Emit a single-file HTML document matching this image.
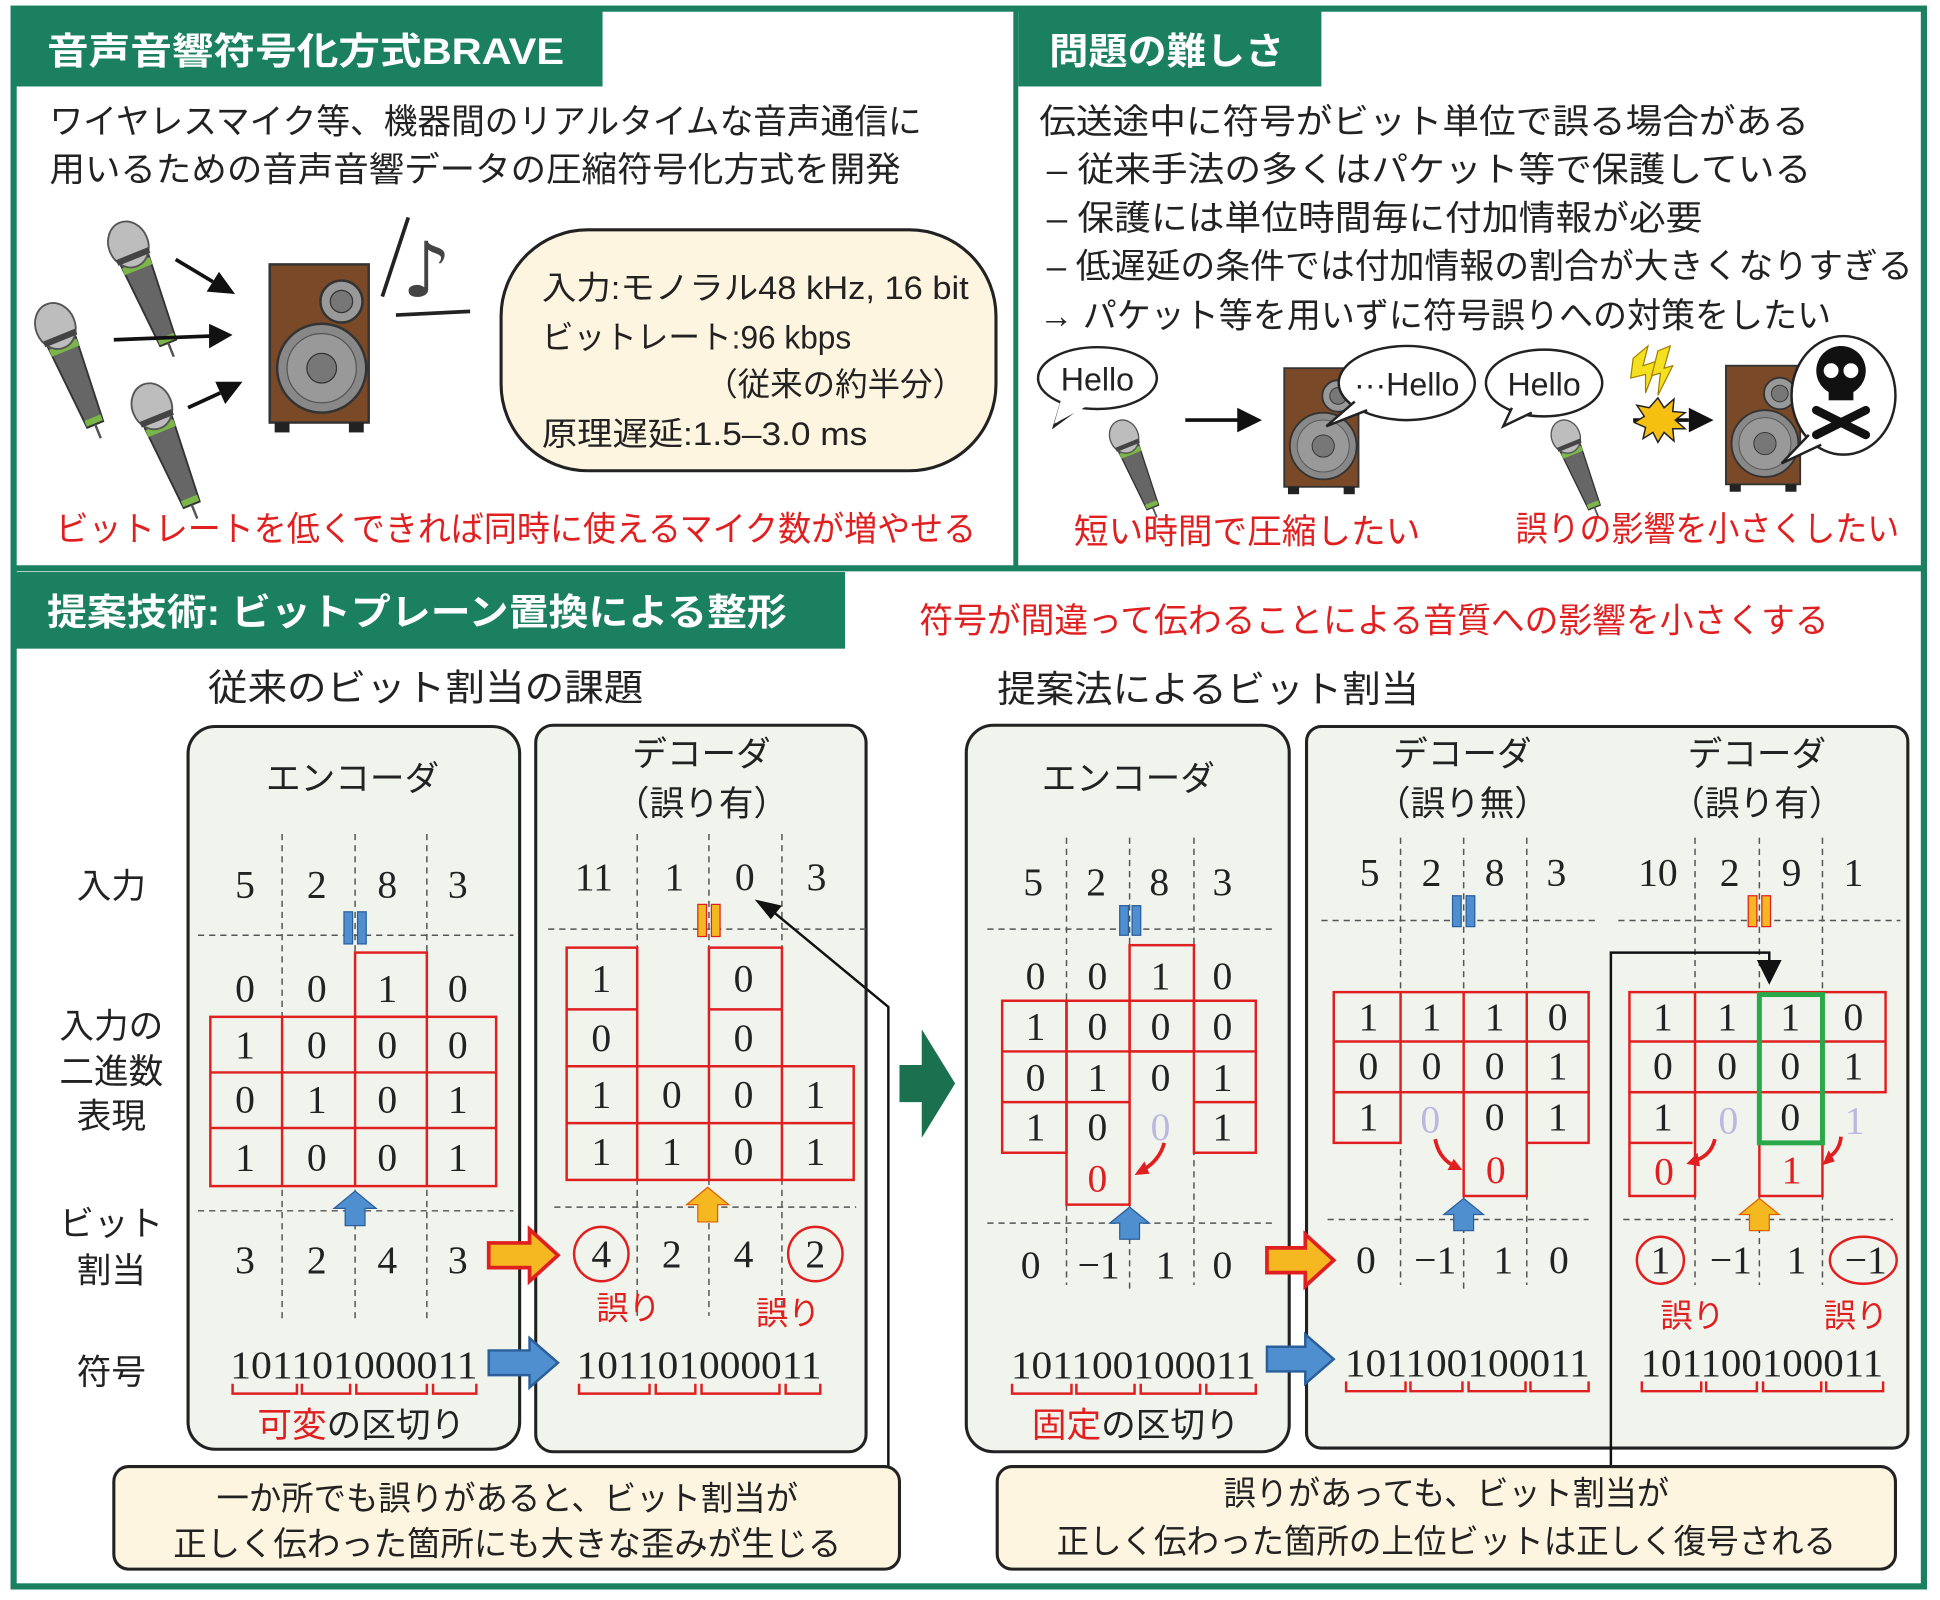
<!DOCTYPE html>
<html><head><meta charset="utf-8"><style>
html,body{margin:0;padding:0;background:#fff;}
svg{display:block;}
.j{font-family:"Liberation Sans","Noto Sans CJK JP",sans-serif;}
.n{font-family:"Liberation Serif","DejaVu Serif",serif;font-size:32px;fill:#222;text-anchor:middle;dominant-baseline:central;}
.f{fill:#b8b8e0;}
.r{fill:#e02020;}
.cell{fill:none;stroke:#e02020;stroke-width:2;}
.dash{stroke:#555;stroke-width:1.2;stroke-dasharray:5,4;fill:none;}
.br{fill:none;stroke:#e02020;stroke-width:2;}
</style></head><body>
<svg width="1940" height="1600" viewBox="0 0 1568 1295" preserveAspectRatio="none" xmlns="http://www.w3.org/2000/svg">
<defs>
<g id="mic">
 <polygon points="-12,16 12,16 7,88 -7,88" fill="#666" stroke="#333" stroke-width="1.5"/>
 <rect x="-12" y="18" width="24" height="6" fill="#7ab648"/>
 <rect x="-7" y="82" width="14" height="5" fill="#7ab648"/>
 <line x1="0" y1="88" x2="0" y2="100" stroke="#555" stroke-width="2"/>
 <ellipse cx="0" cy="2" rx="16" ry="19" fill="#bdbdbd" stroke="#555" stroke-width="1.5"/>
 <rect x="-14" y="10" width="28" height="5" fill="#444"/>
</g>
<g id="spk">
 <rect x="0" y="0" width="80" height="128" fill="#7a4a28" stroke="#333" stroke-width="2"/>
 <circle cx="58" cy="30" r="17" fill="#999" stroke="#333" stroke-width="2"/>
 <circle cx="58" cy="30" r="9" fill="#777" stroke="#333"/>
 <circle cx="42" cy="84" r="36" fill="#888" stroke="#333" stroke-width="2"/>
 <circle cx="42" cy="84" r="28" fill="#999" stroke="#555"/>
 <circle cx="42" cy="84" r="12" fill="#777" stroke="#333"/>
 <rect x="4" y="128" width="12" height="8" fill="#222"/>
 <rect x="64" y="128" width="12" height="8" fill="#222"/>
</g>
</defs>

<!-- outer frame -->
<rect x="11" y="7" width="1544" height="1277" fill="none" stroke="#1b8060" stroke-width="5"/>
<line x1="11" y1="460" x2="1555" y2="460" stroke="#1b8060" stroke-width="5"/>
<line x1="821" y1="7" x2="821" y2="460" stroke="#1b8060" stroke-width="4"/>

<!-- top-left -->
<rect x="12" y="8" width="475" height="62" fill="#1b8060"/>
<text x="38" y="52" class="j" font-size="30" font-weight="bold" fill="#fff" textLength="418" lengthAdjust="spacingAndGlyphs">音声音響符号化方式BRAVE</text>
<text x="40" y="108" class="j" font-size="28" fill="#222" textLength="705" lengthAdjust="spacingAndGlyphs">ワイヤレスマイク等、機器間のリアルタイムな音声通信に</text>
<text x="40" y="147" class="j" font-size="28" fill="#222" textLength="688" lengthAdjust="spacingAndGlyphs">用いるための音声音響データの圧縮符号化方式を開発</text>

<use href="#mic" transform="translate(103,196) rotate(-22)"/>
<use href="#mic" transform="translate(44,262) rotate(-22)"/>
<use href="#mic" transform="translate(122,327) rotate(-22)"/>
<line x1="142" y1="210" x2="172" y2="228" stroke="#111" stroke-width="3"/><polygon points="190,238 167,236 177,220" fill="#111"/>
<line x1="92" y1="275" x2="170" y2="272" stroke="#111" stroke-width="3"/><polygon points="188,271 169,262 169,282" fill="#111"/>
<line x1="152" y1="330" x2="178" y2="318" stroke="#111" stroke-width="3"/><polygon points="196,309 174,309 182,327" fill="#111"/>
<use href="#spk" transform="translate(218,214)"/>
<line x1="330" y1="176" x2="309" y2="240" stroke="#222" stroke-width="3"/>
<line x1="320" y1="255" x2="380" y2="252" stroke="#222" stroke-width="3"/>
<text x="325" y="240" font-size="62" fill="#444" font-family="DejaVu Sans,sans-serif">♪</text>

<rect x="405" y="186" width="400" height="195" rx="70" ry="70" fill="#fdf5e0" stroke="#222" stroke-width="2.5"/>
<text x="438" y="242" class="j" font-size="26" fill="#222" textLength="345" lengthAdjust="spacingAndGlyphs">入力:モノラル48 kHz, 16 bit</text>
<text x="438" y="282" class="j" font-size="26" fill="#222" textLength="250" lengthAdjust="spacingAndGlyphs">ビットレート:96 kbps</text>
<text x="570" y="320" class="j" font-size="26" fill="#222" textLength="210" lengthAdjust="spacingAndGlyphs">（従来の約半分）</text>
<text x="438" y="360" class="j" font-size="26" fill="#222" textLength="263" lengthAdjust="spacingAndGlyphs">原理遅延:1.5–3.0 ms</text>
<text x="45" y="438" class="j" font-size="28" fill="#e02020" textLength="744" lengthAdjust="spacingAndGlyphs">ビットレートを低くできれば同時に使えるマイク数が増やせる</text>

<!-- top-right -->
<rect x="823" y="8" width="245" height="62" fill="#1b8060"/>
<text x="848" y="52" class="j" font-size="30" font-weight="bold" fill="#fff" textLength="190" lengthAdjust="spacingAndGlyphs">問題の難しさ</text>
<text x="840" y="108" class="j" font-size="28" fill="#222" textLength="622" lengthAdjust="spacingAndGlyphs">伝送途中に符号がビット単位で誤る場合がある</text>
<text x="846" y="147" class="j" font-size="28" fill="#222" textLength="618" lengthAdjust="spacingAndGlyphs">– 従来手法の多くはパケット等で保護している</text>
<text x="846" y="186" class="j" font-size="28" fill="#222" textLength="530" lengthAdjust="spacingAndGlyphs">– 保護には単位時間毎に付加情報が必要</text>
<text x="846" y="225" class="j" font-size="28" fill="#222" textLength="700" lengthAdjust="spacingAndGlyphs">– 低遅延の条件では付加情報の割合が大きくなりすぎる</text>
<text x="840" y="265" class="j" font-size="28" fill="#222" textLength="640" lengthAdjust="spacingAndGlyphs">→ パケット等を用いずに符号誤りへの対策をしたい</text>

<path d="M858,325 L852,345 L875,328" fill="#fff" stroke="#222" stroke-width="2"/>
<ellipse cx="887" cy="306" rx="48" ry="25" fill="#fff" stroke="#222" stroke-width="2"/>
<path d="M858,322 L852,343 L878,329" fill="#fff" stroke="none"/>
<text x="887" y="316" font-family="Liberation Sans,sans-serif" font-size="26" text-anchor="middle" fill="#222">Hello</text>
<use href="#mic" transform="translate(908,352) rotate(-22) scale(0.72)"/>
<line x1="958" y1="340" x2="1002" y2="340" stroke="#111" stroke-width="3"/><polygon points="1020,340 1000,330 1000,350" fill="#111"/>
<use href="#spk" transform="translate(1038,298) scale(0.75)"/>
<ellipse cx="1137" cy="310" rx="55" ry="30" fill="#fff" stroke="#222" stroke-width="2"/>
<path d="M1095,325 L1072,345 L1105,332" fill="#fff" stroke="#222" stroke-width="2"/>
<text x="1137" y="320" font-family="Liberation Sans,sans-serif" font-size="26" text-anchor="middle" fill="#222">···Hello</text>
<ellipse cx="1248" cy="310" rx="47" ry="27" fill="#fff" stroke="#222" stroke-width="2"/>
<path d="M1222,330 L1215,345 L1238,334" fill="#fff" stroke="#222" stroke-width="2"/>
<text x="1248" y="320" font-family="Liberation Sans,sans-serif" font-size="26" text-anchor="middle" fill="#222">Hello</text>
<use href="#mic" transform="translate(1265,352) rotate(-22) scale(0.72)"/>
<polygon points="1320,290 1332,280 1328,296 1340,292 1330,318 1330,303 1318,306" fill="#f5e020" stroke="#a08000"/>
<polygon points="1340,284 1350,280 1345,298 1352,296 1340,320 1342,302 1335,304" fill="#f5e020" stroke="#a08000"/>
<line x1="1320" y1="340" x2="1365" y2="340" stroke="#111" stroke-width="3"/><polygon points="1385,340 1365,330 1365,350" fill="#111"/>
<polygon points="1340,322 1345,330 1353,323 1352,333 1362,334 1354,340 1362,347 1352,347 1353,357 1345,350 1340,358 1336,350 1328,355 1330,346 1321,342 1329,337 1323,328 1333,330" fill="#f5c010" stroke="#222" stroke-width="1.2"/>
<use href="#spk" transform="translate(1395,296) scale(0.75)"/>
<ellipse cx="1490" cy="320" rx="42" ry="48" fill="#fff" stroke="#222" stroke-width="2"/>
<path d="M1462,352 L1440,375 L1472,360" fill="#fff" stroke="#222" stroke-width="2"/>
<circle cx="1488" cy="300" r="20" fill="#111"/><rect x="1478" y="310" width="20" height="14" fill="#111"/>
<circle cx="1480" cy="300" r="6" fill="#fff"/><circle cx="1496" cy="300" r="6" fill="#fff"/>
<line x1="1468" y1="332" x2="1508" y2="352" stroke="#111" stroke-width="7" stroke-linecap="round"/>
<line x1="1508" y1="332" x2="1468" y2="352" stroke="#111" stroke-width="7" stroke-linecap="round"/>
<text x="868" y="440" class="j" font-size="28" fill="#e02020" textLength="280" lengthAdjust="spacingAndGlyphs">短い時間で圧縮したい</text>
<text x="1225" y="438" class="j" font-size="28" fill="#e02020" textLength="310" lengthAdjust="spacingAndGlyphs">誤りの影響を小さくしたい</text>

<!-- bottom headers -->
<rect x="12" y="463" width="671" height="62" fill="#1b8060"/>
<text x="38" y="506" class="j" font-size="30" font-weight="bold" fill="#fff" textLength="598" lengthAdjust="spacingAndGlyphs">提案技術: ビットプレーン置換による整形</text>
<text x="743" y="512" class="j" font-size="28" fill="#e02020" textLength="735" lengthAdjust="spacingAndGlyphs">符号が間違って伝わることによる音質への影響を小さくする</text>
<text x="168" y="567" class="j" font-size="30" fill="#222" textLength="352" lengthAdjust="spacingAndGlyphs">従来のビット割当の課題</text>
<text x="806" y="568" class="j" font-size="30" fill="#222" textLength="341" lengthAdjust="spacingAndGlyphs">提案法によるビット割当</text>

<!-- panels -->
<rect x="152" y="588" width="268" height="585" rx="22" fill="#f1f3ed" stroke="#222" stroke-width="2.5"/>
<rect x="433" y="587" width="267" height="588" rx="14" fill="#f1f3ed" stroke="#222" stroke-width="2.5"/>
<rect x="781" y="587" width="261" height="588" rx="22" fill="#f1f3ed" stroke="#222" stroke-width="2.5"/>
<rect x="1056" y="588" width="486" height="584" rx="12" fill="#f1f3ed" stroke="#222" stroke-width="2.5"/>

<!-- row labels -->
<g class="j" font-size="28" fill="#222" text-anchor="middle">
<text x="90" y="727">入力</text>
<text x="90" y="840">入力の</text><text x="90" y="877">二進数</text><text x="90" y="913">表現</text>
<text x="90" y="1000">ビット</text><text x="90" y="1038">割当</text>
<text x="90" y="1120">符号</text>
<text x="285" y="640">エンコーダ</text>
<text x="567" y="620">デコーダ</text><text x="567" y="660">（誤り有）</text>
<text x="912" y="640">エンコーダ</text>
<text x="1182" y="620">デコーダ</text><text x="1182" y="660">（誤り無）</text>
<text x="1420" y="620">デコーダ</text><text x="1420" y="660">（誤り有）</text>
</g>

<!-- ENC1 -->
<g class="dash">
<line x1="228" y1="675" x2="228" y2="1068"/><line x1="287" y1="675" x2="287" y2="1068"/><line x1="345" y1="675" x2="345" y2="1068"/>
<line x1="160" y1="757" x2="415" y2="757"/><line x1="160" y1="980" x2="415" y2="980"/>
</g>
<rect x="287" y="771" width="58" height="52" class="cell"/>
<rect x="170" y="823" width="231" height="137" class="cell"/>
<path d="M228,823V960M287,823V960M345,823V960M170,868H401M170,913H401" class="cell"/>
<g class="n">
<text x="198" y="716">5</text><text x="256" y="716">2</text><text x="313" y="716">8</text><text x="370" y="716">3</text>
<text x="198" y="800">0</text><text x="256" y="800">0</text><text x="313" y="800">1</text><text x="370" y="800">0</text>
<text x="198" y="846">1</text><text x="256" y="846">0</text><text x="313" y="846">0</text><text x="370" y="846">0</text>
<text x="198" y="890">0</text><text x="256" y="890">1</text><text x="313" y="890">0</text><text x="370" y="890">1</text>
<text x="198" y="937">1</text><text x="256" y="937">0</text><text x="313" y="937">0</text><text x="370" y="937">1</text>
<text x="198" y="1020">3</text><text x="256" y="1020">2</text><text x="313" y="1020">4</text><text x="370" y="1020">3</text>
<text x="286" y="1105" textLength="200" lengthAdjust="spacingAndGlyphs">101101000011</text>
</g>
<rect x="278" y="738" width="7" height="26" fill="#4f8fd0" stroke="#2a5f9a"/><rect x="289" y="738" width="7" height="26" fill="#4f8fd0" stroke="#2a5f9a"/>
<polygon points="270,978 287,964 304,978 295,978 295,992 279,992 279,978" fill="#4f8fd0" stroke="#2a5f9a"/>
<path d="M188,1120v8h52v-8M244,1120v8h39v-8M288,1120v8h57v-8M350,1120v8h35v-8" class="br"/>
<text x="208" y="1163" class="j" font-size="28" fill="#222"><tspan fill="#e02020">可変</tspan>の区切り</text>

<!-- DEC1 -->
<g class="dash">
<line x1="515" y1="675" x2="515" y2="1065"/><line x1="573" y1="675" x2="573" y2="1065"/><line x1="632" y1="675" x2="632" y2="1065"/>
<line x1="443" y1="752" x2="700" y2="752"/><line x1="448" y1="977" x2="692" y2="977"/>
</g>
<rect x="458" y="767" width="57" height="96" class="cell"/>
<rect x="573" y="767" width="59" height="96" class="cell"/>
<rect x="458" y="863" width="232" height="92" class="cell"/>
<path d="M458,817H515M573,817H632M515,863V955M573,863V955M632,863V955M458,909H690" class="cell"/>
<g class="n">
<text x="480" y="710">11</text><text x="545" y="710">1</text><text x="602" y="710">0</text><text x="660" y="710">3</text>
<text x="486" y="792">1</text><text x="601" y="792">0</text>
<text x="486" y="840">0</text><text x="601" y="840">0</text>
<text x="486" y="886">1</text><text x="543" y="886">0</text><text x="601" y="886">0</text><text x="659" y="886">1</text>
<text x="486" y="932">1</text><text x="543" y="932">1</text><text x="601" y="932">0</text><text x="659" y="932">1</text>
<text x="486" y="1015">4</text><text x="543" y="1015">2</text><text x="601" y="1015">4</text><text x="659" y="1015">2</text>
<text x="565" y="1105" textLength="198" lengthAdjust="spacingAndGlyphs">101101000011</text>
</g>
<circle cx="486" cy="1015" r="22" fill="none" stroke="#e02020" stroke-width="2"/>
<circle cx="659" cy="1015" r="22" fill="none" stroke="#e02020" stroke-width="2"/>
<rect x="564" y="732" width="7" height="26" fill="#f5b820" stroke="#e02020"/><rect x="575" y="732" width="7" height="26" fill="#f5b820" stroke="#e02020"/>
<polygon points="555,975 572,961 589,975 580,975 580,989 564,989 564,975" fill="#f5b820" stroke="#e06000"/>
<text x="482" y="1068" class="j r" font-size="26">誤り</text>
<text x="611" y="1072" class="j r" font-size="26">誤り</text>
<path d="M468,1120v8h57v-8M530,1120v8h32v-8M567,1120v8h63v-8M635,1120v8h28v-8" class="br"/>
<path d="M718,1188V815L625,738" fill="none" stroke="#111" stroke-width="2"/>
<polygon points="610,728 632,733 623,744" fill="#111"/>

<!-- arrows between -->
<polygon points="395,1006 428,1006 428,995 451,1016 428,1037 428,1026 395,1026" fill="#f5b820" stroke="#e02020" stroke-width="3"/>
<polygon points="395,1093 428,1093 428,1083 451,1103 428,1123 428,1113 395,1113" fill="#4f8fd0" stroke="#2a5f9a" stroke-width="2"/>
<polygon points="1024,1010 1055,1010 1055,999 1078,1020 1055,1041 1055,1030 1024,1030" fill="#f5b820" stroke="#e02020" stroke-width="3"/>
<polygon points="1024,1090 1055,1090 1055,1080 1078,1100 1055,1120 1055,1110 1024,1110" fill="#4f8fd0" stroke="#2a5f9a" stroke-width="2"/>
<polygon points="727,862 745,862 745,833 772,877 745,921 745,892 727,892" fill="#1b7050"/>

<!-- ENC2 -->
<g class="dash">
<line x1="862" y1="678" x2="862" y2="1040"/><line x1="913" y1="678" x2="913" y2="1045"/><line x1="965" y1="678" x2="965" y2="1040"/>
<line x1="798" y1="752" x2="1028" y2="752"/><line x1="798" y1="990" x2="1028" y2="990"/>
</g>
<rect x="913" y="765" width="52" height="86" class="cell"/>
<rect x="810" y="810" width="52" height="123" class="cell"/>
<rect x="862" y="810" width="51" height="165" class="cell"/>
<rect x="965" y="810" width="50" height="123" class="cell"/>
<path d="M810,851H1015M810,892H913M965,892H1015M810,810H1015" class="cell"/>
<g class="n" font-size="30">
<text x="835" y="714">5</text><text x="886" y="714">2</text><text x="937" y="714">8</text><text x="988" y="714">3</text>
<text x="837" y="790">0</text><text x="887" y="790">0</text><text x="938" y="790">1</text><text x="988" y="790">0</text>
<text x="837" y="831">1</text><text x="887" y="831">0</text><text x="938" y="831">0</text><text x="988" y="831">0</text>
<text x="837" y="872">0</text><text x="887" y="872">1</text><text x="938" y="872">0</text><text x="988" y="872">1</text>
<text x="837" y="912">1</text><text x="887" y="912">0</text><text x="938" y="912" class="f">0</text><text x="988" y="912">1</text>
<text x="887" y="954" class="r">0</text>
<text x="833" y="1024">0</text><text x="888" y="1024">−1</text><text x="942" y="1024">1</text><text x="988" y="1024">0</text>
<text x="916" y="1105" textLength="198" lengthAdjust="spacingAndGlyphs">101100100011</text>
</g>
<path d="M941,925 Q937,940 922,948" fill="none" stroke="#e02020" stroke-width="3"/><polygon points="917,951 925,940 929,950" fill="#e02020"/>
<rect x="905" y="733" width="7" height="24" fill="#4f8fd0" stroke="#2a5f9a"/><rect x="915" y="733" width="7" height="24" fill="#4f8fd0" stroke="#2a5f9a"/>
<polygon points="897,990 913,977 929,990 921,990 921,1003 905,1003 905,990" fill="#4f8fd0" stroke="#2a5f9a"/>
<path d="M818,1120v8h48v-8M870,1120v8h47v-8M922,1120v8h48v-8M975,1120v8h40v-8" class="br"/>
<text x="834" y="1163" class="j" font-size="28" fill="#222"><tspan fill="#e02020">固定</tspan>の区切り</text>

<!-- DEC2 left -->
<g class="dash">
<line x1="1132" y1="678" x2="1132" y2="1040"/><line x1="1183" y1="678" x2="1183" y2="1045"/><line x1="1234" y1="678" x2="1234" y2="1040"/>
<line x1="1068" y1="745" x2="1290" y2="745"/><line x1="1073" y1="987" x2="1284" y2="987"/>
</g>
<rect x="1078" y="803" width="206" height="81" class="cell"/>
<path d="M1132,803V884M1183,803V884M1234,803V884M1078,843H1284" class="cell"/>
<rect x="1078" y="884" width="54" height="41" class="cell"/>
<rect x="1183" y="884" width="51" height="84" class="cell"/>
<rect x="1234" y="884" width="50" height="41" class="cell"/>
<g class="n" font-size="30">
<text x="1107" y="706">5</text><text x="1157" y="706">2</text><text x="1208" y="706">8</text><text x="1258" y="706">3</text>
<text x="1106" y="823">1</text><text x="1157" y="823">1</text><text x="1208" y="823">1</text><text x="1259" y="823">0</text>
<text x="1106" y="863">0</text><text x="1157" y="863">0</text><text x="1208" y="863">0</text><text x="1259" y="863">1</text>
<text x="1106" y="904">1</text><text x="1156" y="906" class="f">0</text><text x="1208" y="904">0</text><text x="1259" y="904">1</text>
<text x="1209" y="947" class="r">0</text>
<text x="1104" y="1020">0</text><text x="1160" y="1020">−1</text><text x="1215" y="1020">1</text><text x="1260" y="1020">0</text>
<text x="1186" y="1103" textLength="198" lengthAdjust="spacingAndGlyphs">101100100011</text>
</g>
<path d="M1160,922 Q1163,938 1176,944" fill="none" stroke="#e02020" stroke-width="3"/><polygon points="1182,947 1170,947 1175,938" fill="#e02020"/>
<rect x="1174" y="725" width="7" height="25" fill="#4f8fd0" stroke="#2a5f9a"/><rect x="1185" y="725" width="7" height="25" fill="#4f8fd0" stroke="#2a5f9a"/>
<polygon points="1167,983 1183,970 1199,983 1191,983 1191,996 1175,996 1175,983" fill="#4f8fd0" stroke="#2a5f9a"/>
<path d="M1088,1118v8h48v-8M1140,1118v8h42v-8M1187,1118v8h46v-8M1237,1118v8h47v-8" class="br"/>

<!-- DEC2 right -->
<g class="dash">
<line x1="1370" y1="678" x2="1370" y2="1040"/><line x1="1422" y1="678" x2="1422" y2="1040"/><line x1="1473" y1="678" x2="1473" y2="1040"/>
<line x1="1308" y1="745" x2="1536" y2="745"/><line x1="1312" y1="987" x2="1530" y2="987"/>
</g>
<rect x="1317" y="803" width="207" height="81" class="cell"/>
<path d="M1370,803V884M1422,803V884M1473,803V884M1317,843H1524" class="cell"/>
<rect x="1317" y="884" width="53" height="84" class="cell"/>
<path d="M1317,925H1368" class="cell"/>
<rect x="1422" y="925" width="51" height="43" class="cell"/>
<rect x="1422" y="805" width="51" height="120" fill="none" stroke="#2aa84a" stroke-width="4"/>
<g class="n" font-size="30">
<text x="1340" y="706">10</text><text x="1398" y="706">2</text><text x="1448" y="706">9</text><text x="1498" y="706">1</text>
<text x="1344" y="823">1</text><text x="1396" y="823">1</text><text x="1447" y="823">1</text><text x="1498" y="823">0</text>
<text x="1344" y="863">0</text><text x="1396" y="863">0</text><text x="1447" y="863">0</text><text x="1498" y="863">1</text>
<text x="1344" y="904">1</text><text x="1397" y="907" class="f">0</text><text x="1447" y="904">0</text><text x="1499" y="907" class="f">1</text>
<text x="1345" y="948" class="r">0</text><text x="1448" y="947" class="r">1</text>
<text x="1342" y="1020">1</text><text x="1399" y="1020">−1</text><text x="1452" y="1020">1</text><text x="1508" y="1020">−1</text>
<text x="1424" y="1103" textLength="196" lengthAdjust="spacingAndGlyphs">101100100011</text>
</g>
<circle cx="1342" cy="1020" r="19" fill="none" stroke="#e02020" stroke-width="2"/>
<ellipse cx="1506" cy="1020" rx="27" ry="19" fill="none" stroke="#e02020" stroke-width="2"/>
<path d="M1386,922 Q1383,936 1368,940" fill="none" stroke="#e02020" stroke-width="3"/><polygon points="1363,942 1372,933 1374,944" fill="#e02020"/>
<path d="M1488,920 Q1487,932 1476,938" fill="none" stroke="#e02020" stroke-width="3"/><polygon points="1473,943 1478,931 1483,940" fill="#e02020"/>
<rect x="1413" y="725" width="7" height="25" fill="#f5b820" stroke="#e02020"/><rect x="1424" y="725" width="7" height="25" fill="#f5b820" stroke="#e02020"/>
<polygon points="1406,983 1422,970 1438,983 1430,983 1430,996 1414,996 1414,983" fill="#f5b820" stroke="#e06000"/>
<text x="1342" y="1074" class="j r" font-size="26">誤り</text>
<text x="1474" y="1074" class="j r" font-size="26">誤り</text>
<path d="M1327,1118v8h48v-8M1379,1118v8h41v-8M1425,1118v8h47v-8M1476,1118v8h46v-8" class="br"/>
<path d="M1302,1190V771H1430V780" fill="none" stroke="#111" stroke-width="2"/>
<polygon points="1430,797 1420,777 1440,777" fill="#111"/>

<!-- bottom notes -->
<rect x="92" y="1187" width="635" height="83" rx="12" fill="#fdf5e0" stroke="#222" stroke-width="2.5"/>
<text x="410" y="1222" class="j" font-size="27" fill="#222" text-anchor="middle" textLength="470" lengthAdjust="spacingAndGlyphs">一か所でも誤りがあると、ビット割当が</text>
<text x="410" y="1259" class="j" font-size="27" fill="#222" text-anchor="middle" textLength="540" lengthAdjust="spacingAndGlyphs">正しく伝わった箇所にも大きな歪みが生じる</text>
<rect x="806" y="1187" width="726" height="83" rx="12" fill="#fdf5e0" stroke="#222" stroke-width="2.5"/>
<text x="1169" y="1218" class="j" font-size="27" fill="#222" text-anchor="middle" textLength="360" lengthAdjust="spacingAndGlyphs">誤りがあっても、ビット割当が</text>
<text x="1169" y="1257" class="j" font-size="27" fill="#222" text-anchor="middle" textLength="630" lengthAdjust="spacingAndGlyphs">正しく伝わった箇所の上位ビットは正しく復号される</text>
</svg>
</body></html>
